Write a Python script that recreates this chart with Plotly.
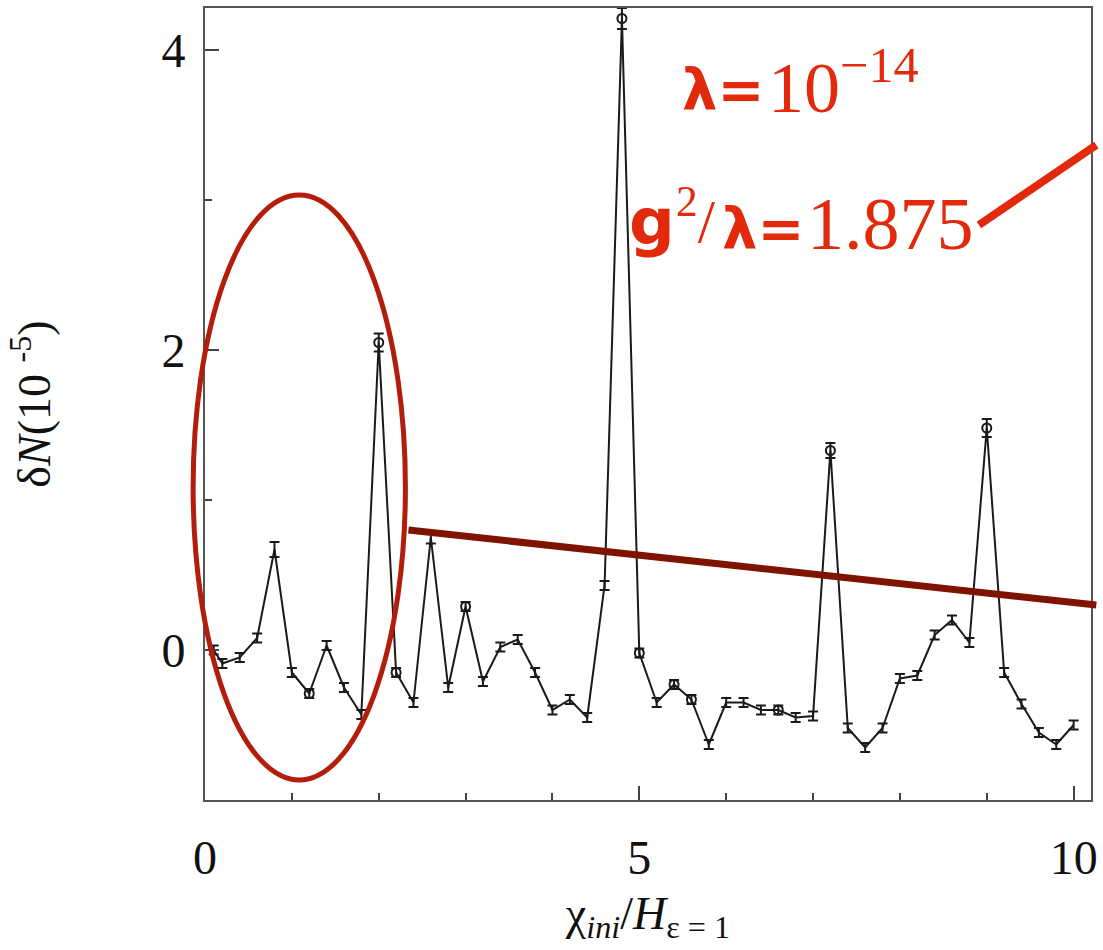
import plotly.graph_objects as go

# ---- data ----
chi = [0.1, 0.2, 0.4, 0.6, 0.8, 1.0, 1.2, 1.4, 1.6, 1.8,
       2.0, 2.2, 2.4, 2.6, 2.8, 3.0, 3.2, 3.4, 3.6, 3.8,
       4.0, 4.2, 4.4, 4.6, 4.8, 5.0, 5.2, 5.4, 5.6, 5.8,
       6.0, 6.2, 6.4, 6.6, 6.8, 7.0, 7.2, 7.4, 7.6, 7.8,
       8.0, 8.2, 8.4, 8.6, 8.8, 9.0, 9.2, 9.4, 9.6, 9.8, 10.0]
dN = [0.00, -0.09, -0.05, 0.08, 0.67, -0.15, -0.29, 0.03, -0.25, -0.43,
      2.05, -0.15, -0.35, 0.75, -0.25, 0.29, -0.21, 0.02, 0.07, -0.15,
      -0.40, -0.33, -0.45, 0.43, 4.21, -0.02, -0.35, -0.23, -0.33, -0.63,
      -0.35, -0.35, -0.40, -0.40, -0.45, -0.44, 1.33, -0.52, -0.65, -0.52,
      -0.19, -0.17, 0.10, 0.20, 0.05, 1.48, -0.15, -0.36, -0.55, -0.63, -0.50]
err = [0.03, 0.03, 0.03, 0.03, 0.05, 0.03, 0.03, 0.03, 0.03, 0.03,
       0.06, 0.03, 0.03, 0.04, 0.03, 0.03, 0.03, 0.03, 0.03, 0.03,
       0.03, 0.03, 0.03, 0.03, 0.07, 0.03, 0.03, 0.03, 0.03, 0.03,
       0.03, 0.03, 0.03, 0.03, 0.03, 0.03, 0.05, 0.03, 0.03, 0.03,
       0.03, 0.03, 0.03, 0.03, 0.03, 0.06, 0.03, 0.03, 0.03, 0.03, 0.03]
circle_x = [1.2, 2.0, 2.2, 3.0, 4.8, 5.0, 5.4, 5.6, 6.6, 7.2, 9.0]

x_ticks = [0, 5, 10]
x_ticklabels = ["0", "5", "10"]
y_ticks = [0, 2, 4]
y_ticklabels = ["0", "2", "4"]

SERIF = "Times New Roman, Liberation Serif, DejaVu Serif, serif"
SANS = "DejaVu Sans"
RED = "#e2290b"
ELLIPSE = "#b31d0c"
DARKRED = "#7e1300"

circ_y = [dN[chi.index(c)] for c in circle_x]

fig = go.Figure()
fig.add_trace(go.Scatter(
    x=chi, y=dN, mode="lines",
    line=dict(color="#1a1a1a", width=2),
    error_y=dict(type="data", array=err, visible=True, color="#1a1a1a",
                 thickness=2, width=5),
    showlegend=False, hoverinfo="skip"))
fig.add_trace(go.Scatter(
    x=circle_x, y=circ_y, mode="markers",
    marker=dict(symbol="circle-open", size=9, color="#1a1a1a",
                line=dict(width=2, color="#1a1a1a")),
    showlegend=False, hoverinfo="skip"))

fig.update_layout(
    width=1103, height=950,
    margin=dict(l=205, r=5, t=8, b=150),
    paper_bgcolor="white", plot_bgcolor="white",
    font=dict(family=SERIF, color="#111", size=44),
    xaxis=dict(range=[0, 10.2], tickvals=x_ticks, ticktext=x_ticklabels,
               ticks="inside", ticklen=14, tickwidth=1.5, tickcolor="#444",
               minor=dict(tickmode="linear", tick0=0, dtick=1, ticks="inside",
                          ticklen=7, tickwidth=1.5, tickcolor="#444"),
               showline=True, linecolor="#555", linewidth=2, mirror=True,
               showgrid=False, zeroline=False,
               tickfont=dict(family=SERIF, size=48, color="#111"),
               ticklabelstandoff=14,
               title=dict(text="χ<sub><i>ini</i></sub>/<i>H</i><sub>ε = 1</sub>",
                          font=dict(family=SERIF, size=46, color="#111"),
                          standoff=14)),
    yaxis=dict(range=[-1.0, 4.28], tickvals=y_ticks, ticktext=y_ticklabels,
               ticks="inside", ticklen=14, tickwidth=1.5, tickcolor="#444",
               minor=dict(tickmode="linear", tick0=0, dtick=1, ticks="inside",
                          ticklen=7, tickwidth=1.5, tickcolor="#444"),
               showline=True, linecolor="#555", linewidth=2, mirror=True,
               showgrid=False, zeroline=False,
               tickfont=dict(family=SERIF, size=48, color="#111"),
               ticklabelstandoff=8,
               title=dict(text="δ<i>N</i>(10 <sup>-5</sup>)",
                          font=dict(family=SERIF, size=46, color="#111"),
                          standoff=96)),
)

# ellipse highlight
fig.add_shape(type="circle", xref="paper", yref="paper",
              x0=-0.0134, x1=0.2262, y0=0.0253, y1=0.764,
              line=dict(color=ELLIPSE, width=5))
# dark red pointer line
fig.add_shape(type="line", xref="paper", yref="paper",
              x0=0.2296, y0=0.3409, x1=1.006, y1=0.2462,
              line=dict(color=DARKRED, width=7))
# red pointer line from label
fig.add_shape(type="line", xref="paper", yref="paper",
              x0=0.8735, y0=0.726, x1=1.006, y1=0.827,
              line=dict(color=RED, width=8))


def px_x(p):
    return (p - 205) / 893


def px_y(p):
    return (800 - p) / 792


def label(text, left, mid, family, size, bold=False):
    fig.add_annotation(
        xref="paper", yref="paper", x=px_x(left), y=px_y(mid),
        xanchor="left", yanchor="middle", showarrow=False,
        text=f"<b>{text}</b>" if bold else text,
        font=dict(family=family, size=size, color=RED),
        borderpad=0)


# "λ=10^-14"
label("λ=", 685, 90, SANS, 56, bold=True)
label("10<sup>−14</sup>", 771, 82, SERIF, 72)
# "g²/λ=1.875"
label("g", 631, 222, SANS, 64, bold=True)
label("<sup>2</sup>/", 679, 216, SERIF, 62)
label("λ=", 725, 228, SANS, 56, bold=True)
label("1.875", 811, 224, SERIF, 74)

fig.write_html("out.html")
